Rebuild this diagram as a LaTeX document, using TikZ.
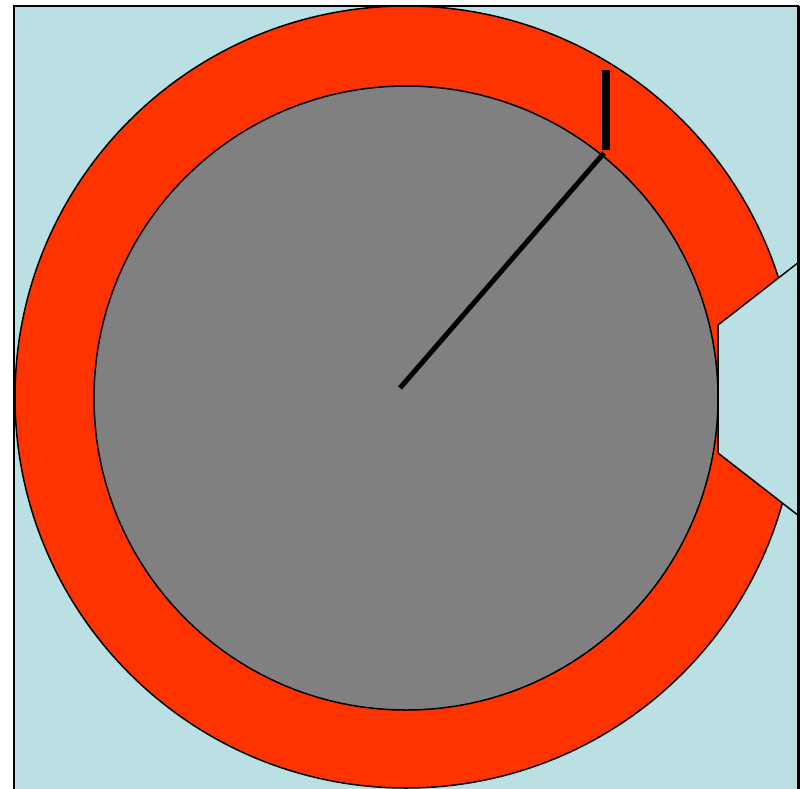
\documentclass[tikz,border=0pt]{standalone}
\definecolor{bgblue}{RGB}{186,224,227}
\definecolor{ringred}{RGB}{255,51,0}
\definecolor{discgray}{RGB}{128,128,128}
\tikzset{
  outline/.style={draw=black,line width=1.5pt},
  frame/.style={draw=black,line width=2pt},
  needle/.style={draw=black,line width=5pt},
  bar/.style={draw=black,line width=7.5pt}
}
\begin{document}
\begin{tikzpicture}[x=1pt,y=-1pt]
\useasboundingbox (0,0) rectangle (804,788);
% background
\coordinate (f0) at (14,790);
\coordinate (f1) at (14,6);
\coordinate (f2) at (798.5,6);
\coordinate (f3) at (798.5,790);
\fill[bgblue] (f1) rectangle (f3);
% outer ring
\coordinate (c) at (406,397);
\filldraw[fill=ringred,outline] (c) circle (391);
% inner disc
\coordinate (d) at (406,398);
\filldraw[fill=discgray,outline] (d) circle (312);
% notch
\coordinate (n1) at (799,262);
\coordinate (n2) at (718,325);
\coordinate (n3) at (718,453);
\coordinate (n4) at (799,516);
\fill[bgblue] (n1) -- (n2) -- (n3) -- (n4) -- cycle;
\draw[outline] (n1) -- (n2) -- (n3) -- (n4);
% frame
\draw[frame] (f0) -- (f1) -- (f2);
\draw[frame,line width=3pt] (f2) -- (f3);
% pointer
\coordinate (p0) at (400,388);
\coordinate (p1) at (604,153);
\coordinate (b0) at (606,70);
\coordinate (b1) at (606,150);
\draw[needle] (p0) -- (p1);
\draw[bar] (b0) -- (b1);
\end{tikzpicture}
\end{document}
